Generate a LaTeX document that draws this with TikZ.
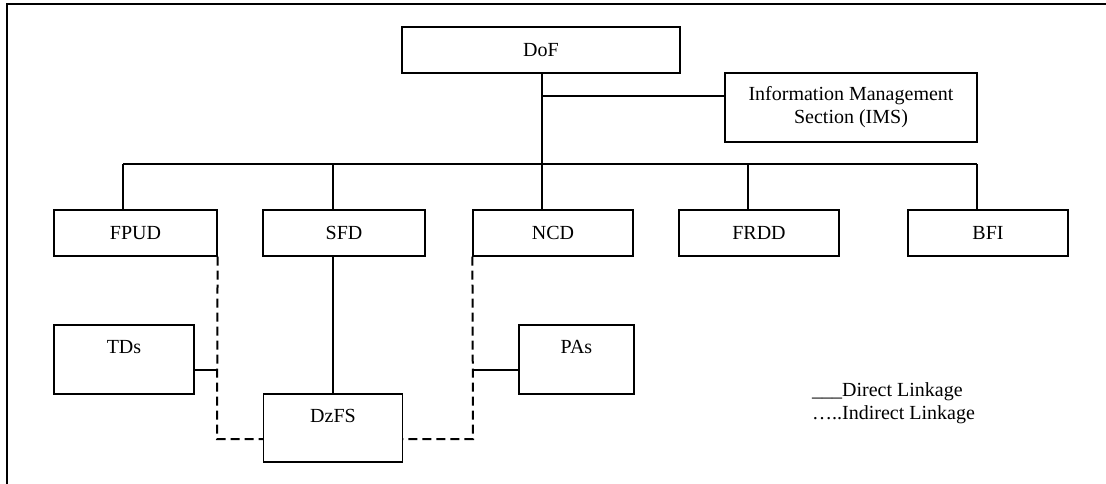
\documentclass[tikz,border=0pt]{standalone}
\usepackage{fontspec}
\setmainfont{Liberation Serif}
\begin{document}
\begin{tikzpicture}[x=1pt,y=-1pt,
  box/.style={draw,line width=1.2pt,inner sep=0pt,font=\fontsize{20}{23}\selectfont,align=center},
  link/.style={line width=2pt},
  ilink/.style={line width=2pt,dash pattern=on 9pt off 5pt},
  toptext/.style={label={[anchor=center,yshift=-23pt,font=\fontsize{20}{23}\selectfont]north:#1}}]
\useasboundingbox (0,0) rectangle (1106,484);
% frame (top and left only)
\draw[line width=1.3pt] (1106,4) -- (7,4) -- (7,484);
% boxes
\node[box,minimum width=278pt,minimum height=46pt] (dof) at (541,50) {DoF};
\node[box,minimum width=252pt,minimum height=69pt] (ims) at (851,107.5) {Information Management\\Section (IMS)};
\node[box,minimum width=163pt,minimum height=46pt] (fpud) at (135.5,233) {FPUD};
\node[box,minimum width=162pt,minimum height=46pt] (sfd) at (344,233) {SFD};
\node[box,minimum width=160pt,minimum height=46pt] (ncd) at (553,233) {NCD};
\node[box,minimum width=160pt,minimum height=46pt] (frdd) at (759,233) {FRDD};
\node[box,minimum width=160pt,minimum height=46pt] (bfi) at (988,233) {BFI};
\node[box,minimum width=140pt,minimum height=69pt,toptext=TDs] (tds) at (124,359.5) {};
\node[box,minimum width=139pt,minimum height=68pt,toptext=DzFS] (dzfs) at (333,428) {};
\node[box,minimum width=115pt,minimum height=69pt,toptext=PAs] (pas) at (576.5,359.5) {};
% junction coordinates
\coordinate (jims) at (542,96);
\coordinate (b1) at (123,164);
\coordinate (b2) at (333,164);
\coordinate (b3) at (542,164);
\coordinate (b4) at (748,164);
\coordinate (b5) at (977,164);
\coordinate (dl) at (217,439);
\coordinate (dr) at (473,439);
\coordinate (tl) at (217,370);
\coordinate (pl) at (473,370);
% direct links
\draw[link] (dof.south -| jims) -- (b3);
\draw[link] (jims) -- (jims -| ims.west);
\draw[link] (b1) -- (b5);
\draw[link] (b1) -- (b1 |- fpud.north);
\draw[link] (b2) -- (b2 |- sfd.north);
\draw[link] (b3) -- (b3 |- ncd.north);
\draw[link] (b4) -- (b4 |- frdd.north);
\draw[link] (b5) -- (b5 |- bfi.north);
\draw[link] (dzfs.north |- sfd.south) -- (dzfs.north);
\draw[link] (tl -| tds.east) -- (tl);
\draw[link] (pl) -- (pl -| pas.west);
% indirect links
\draw[ilink] (fpud.south east) -- (dl) -- (dl -| dzfs.west);
\draw[ilink] (ncd.south west) -- (dr) -- (dr -| dzfs.east);
% legend
\node[anchor=west,align=left,inner sep=0pt,font=\fontsize{20}{23}\selectfont] (legend) at (812,403.5) {\_\_\_Direct Linkage\\…..Indirect Linkage};
\end{tikzpicture}
\end{document}
